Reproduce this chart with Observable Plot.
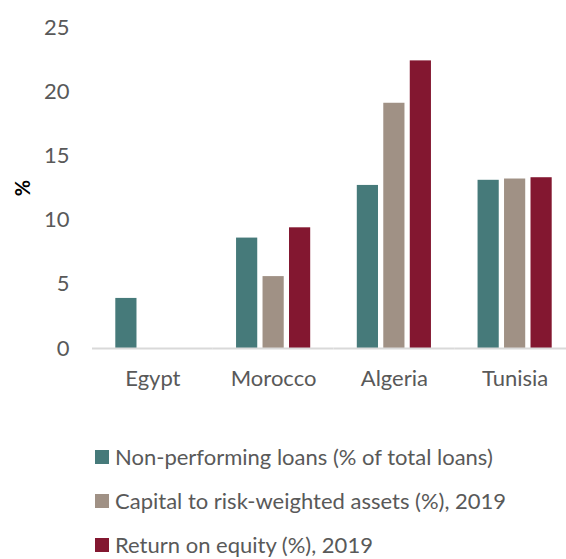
<!DOCTYPE html>
<html>
<head>
<meta charset="utf-8">
<script src="https://cdn.jsdelivr.net/npm/d3@7"></script>
<script src="https://cdn.jsdelivr.net/npm/@observablehq/plot@0.6"></script>
<style>
  html, body { margin: 0; padding: 0; background: #fff; }
  body { width: 566px; height: 559px; overflow: hidden; font-family: Lato, "Open Sans", sans-serif; }
  #chart { width: 566px; height: 400px; overflow: hidden; }
  #chart svg { max-width: none !important; }
  #legend { margin-top: 35px; padding-left: 95px; color: #595959; font-size: 22px; line-height: 22px; }
  .row { display: flex; align-items: center; height: 44px; white-space: nowrap; }
  .sw { width: 14px; height: 14px; margin-right: 6px; flex: none; }
</style>
</head>
<body>
<div id="chart"></div>
<div id="legend"></div>
<script>
const countries = ["Egypt", "Morocco", "Algeria", "Tunisia"];
const seriesNames = [
  "Non-performing loans (% of total loans)",
  "Capital to risk-weighted assets (%), 2019",
  "Return on equity (%), 2019"
];
const nonPerformingLoans = [3.9, 8.6, 12.7, 13.1];
const capitalToRWA = [null, 5.6, 19.1, 13.2];
const returnOnEquity = [null, 9.4, 22.4, 13.3];
const colors = ["#467a7a", "#a09185", "#831730"];
const yTicks = [0, 5, 10, 15, 20, 25];

const valuesBySeries = [nonPerformingLoans, capitalToRWA, returnOnEquity];
const data = [];
countries.forEach((c, i) => {
  seriesNames.forEach((s, j) => {
    const v = valuesBySeries[j][i];
    if (v != null) data.push({country: c, series: s, value: v});
  });
});

const chart = Plot.plot({
  width: 575,
  height: 400,
  marginLeft: 92,
  marginRight: 0,
  marginTop: 27,
  marginBottom: 52,
  style: {fontFamily: "Lato, 'Open Sans', sans-serif", fontSize: "22px", color: "#595959", background: "#fff", maxWidth: "none"},
  fx: {domain: countries, padding: 0, round: false, label: null, tickSize: 0, tickPadding: 22},
  x: {domain: seriesNames, paddingInner: 0.2, paddingOuter: 0.88, round: false, axis: null},
  y: {domain: [0, 25], ticks: yTicks, tickSize: 0, tickPadding: 23, label: "%", labelAnchor: "center", labelArrow: "none", labelOffset: 77},
  color: {domain: seriesNames, range: colors},
  marks: [
    Plot.barY(data, {fx: "country", x: "series", y: "value", fill: "series"}),
    Plot.ruleY([0], {stroke: "#d9d9d9", strokeWidth: 2})
  ]
});
d3.select(chart).selectAll("[aria-label='y-axis label'] text")
  .attr("fill", "#000").style("font-weight", "bold").style("font-size", "20px");
document.getElementById("chart").appendChild(chart);

const legend = document.getElementById("legend");
seriesNames.forEach((s, i) => {
  const row = document.createElement("div");
  row.className = "row";
  const sw = document.createElement("span");
  sw.className = "sw";
  sw.style.background = colors[i];
  const t = document.createElement("span");
  t.textContent = s;
  row.appendChild(sw);
  row.appendChild(t);
  legend.appendChild(row);
});
</script>
</body>
</html>
